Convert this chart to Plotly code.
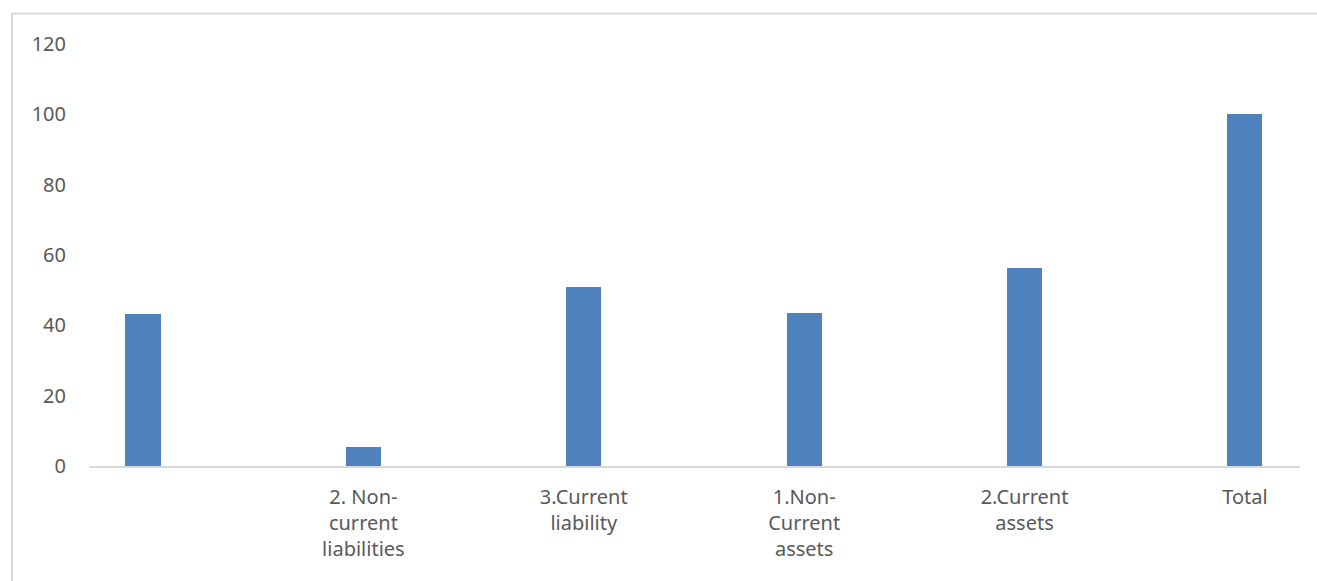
import plotly.graph_objects as go

categories = ["", "2. Non-<br>current<br>liabilities", "3.Current<br>liability", "1.Non-<br>Current<br>assets", "2.Current<br>assets", "Total"]
values = [43.2, 5.4, 50.9, 43.4, 56.3, 100]
y_ticks = [0, 20, 40, 60, 80, 100, 120]

W, H = 1317, 581
L, R, T, B = 89, 17, 43.6, 115
pw, ph = W - L - R, H - T - B

fig = go.Figure(go.Bar(
    x=list(range(len(categories))), y=values,
    width=0.159, marker=dict(color="#4F81BD", line=dict(width=0)),
))

def px_x(p):
    return (p - L) / pw

def px_y(p):
    return (H - B - p) / ph

border = "#D9D9D9"
fig.add_shape(type="line", xref="paper", yref="paper", x0=px_x(12), x1=px_x(1317), y0=px_y(13), y1=px_y(13),
              line=dict(color=border, width=2))
fig.add_shape(type="line", xref="paper", yref="paper", x0=px_x(12), x1=px_x(12), y0=px_y(13), y1=px_y(581),
              line=dict(color=border, width=2))

fig.update_layout(
    width=W, height=H,
    margin=dict(l=L, r=R, t=T, b=B, pad=0),
    paper_bgcolor="white", plot_bgcolor="white",
    font=dict(family="Noto Sans, Open Sans, sans-serif", size=20, color="#595959"),
    showlegend=False,
    bargap=0,
    xaxis=dict(
        tickmode="array", tickvals=list(range(len(categories))), ticktext=categories,
        range=[-0.245, 5.25], showgrid=False, zeroline=False,
        showline=True, linecolor=border, linewidth=2,
        ticks="", ticklabelstandoff=12, tickangle=0,
    ),
    yaxis=dict(
        range=[0, 120], tickvals=y_ticks, showgrid=False, zeroline=False,
        showline=False, ticks="", ticklabelstandoff=22,
    ),
)

fig.write_html("out.html")
